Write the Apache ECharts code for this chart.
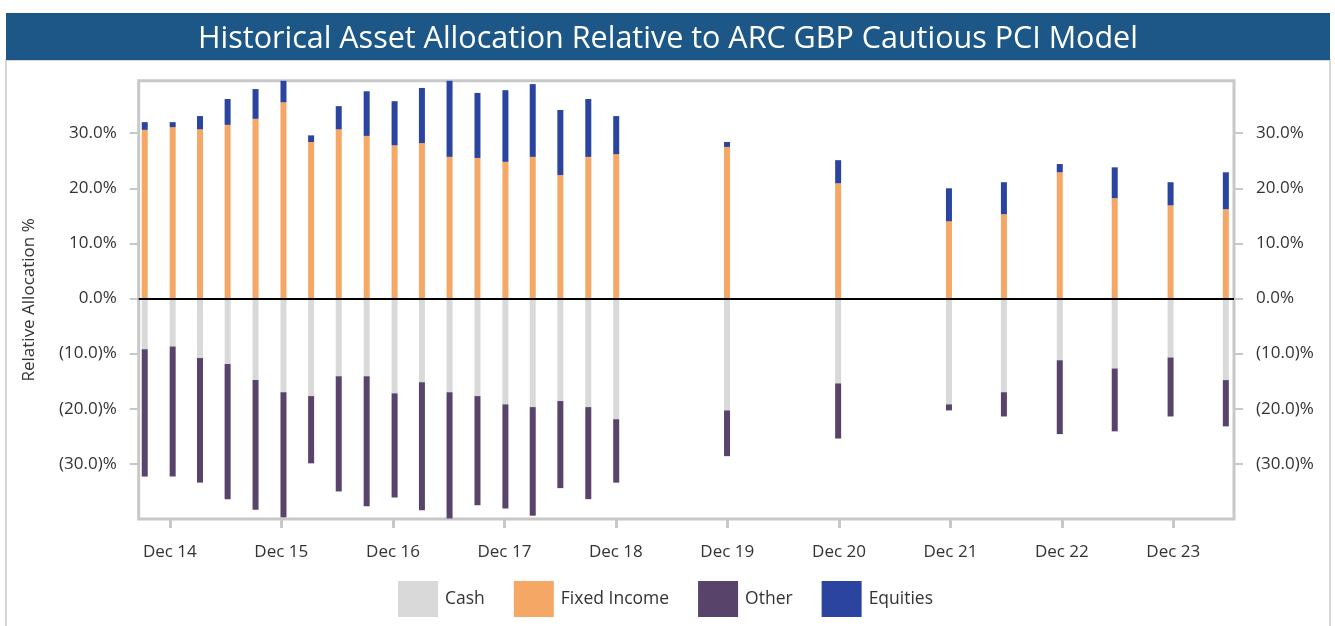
<!DOCTYPE html>
<html>
<head>
<meta charset="utf-8">
<title>Historical Asset Allocation</title>
<script src="https://cdn.jsdelivr.net/npm/echarts@6/dist/echarts.min.js"></script>
<style>
  html, body { margin: 0; padding: 0; background: #fff; }
  #main { width: 1335px; height: 626px; }
</style>
</head>
<body>
<div id="main"></div>
<script>
// period ends (quarterly to Dec 18, then yearly, then half-yearly)
var periods = ['2014-09-30', '2014-12-31', '2015-03-31', '2015-06-30', '2015-09-30', '2015-12-31',
  '2016-03-31', '2016-06-30', '2016-09-30', '2016-12-31', '2017-03-31', '2017-06-30', '2017-09-30',
  '2017-12-31', '2018-03-31', '2018-06-30', '2018-09-30', '2018-12-31', '2019-12-31', '2020-12-31',
  '2021-12-31', '2022-06-30', '2022-12-31', '2023-06-30', '2023-12-31', '2024-06-30'];

// relative allocation, %
var cash = [-9.2, -8.7, -10.8, -11.9, -14.8, -17.0, -17.7, -14.1, -14.1, -17.2, -15.2, -17.0, -17.7,
  -19.2, -19.7, -18.6, -19.7, -21.9, -20.3, -15.4, -19.2, -17.0, -11.2, -12.7, -10.7, -14.8];
var fixedIncome = [30.6, 31.1, 30.7, 31.5, 32.6, 35.6, 28.4, 30.7, 29.5, 27.8, 28.2, 25.7, 25.5,
  24.8, 25.7, 22.4, 25.7, 26.2, 27.5, 20.9, 14.0, 15.3, 22.9, 18.2, 16.9, 16.2];
var other = [-23.1, -23.6, -22.6, -24.5, -23.5, -22.7, -12.2, -20.9, -23.6, -18.9, -23.2, -22.9, -19.8,
  -18.9, -19.7, -15.8, -16.7, -11.5, -8.3, -10.0, -1.1, -4.4, -13.4, -11.4, -10.7, -8.4];
var equities = [1.4, 0.9, 2.4, 4.7, 5.4, 4.2, 1.2, 4.2, 8.1, 8.0, 10.0, 14.2, 11.8,
  13.0, 13.2, 11.8, 10.5, 6.9, 0.9, 4.2, 6.0, 5.8, 1.5, 5.6, 4.2, 6.7];

// x axis labels (year ends) and y axis ticks
var labelYears = [2014, 2015, 2016, 2017, 2018, 2019, 2020, 2021, 2022, 2023];
var yTicks = [-30, -20, -10, 0, 10, 20, 30];

var FONT = '"Open Sans", "Noto Sans", sans-serif';
var TXT = '#333333';
var GREY = '#c8c8c8';

var xTicks = labelYears.map(function (y) { return new Date(y, 11, 31).getTime(); });
var xMin = new Date(2014, 8, 20).getTime();
var xMax = new Date(2024, 6, 17).getTime();

function xLabel(v) {
  return 'Dec ' + String(new Date(v).getFullYear()).slice(2);
}
function pct(v) {
  return v < 0 ? '(' + (-v).toFixed(1) + ')%' : v.toFixed(1) + '%';
}
function toPairs(arr) {
  return arr.map(function (v, i) { return [periods[i], v]; });
}

var chart = echarts.init(document.getElementById('main'));

function yAxisCfg(pos) {
  return {
    type: 'value',
    position: pos,
    min: -40,
    max: 39.5,
    splitLine: { show: false },
    axisLine: { show: false },
    axisTick: { show: true, customValues: yTicks, length: 9, lineStyle: { color: GREY, width: 2 } },
    axisLabel: {
      customValues: yTicks, formatter: pct, margin: 22,
      color: TXT, fontSize: 17, fontFamily: FONT
    }
  };
}

var leftAxis = yAxisCfg('left');
leftAxis.name = 'Relative Allocation %';
leftAxis.nameLocation = 'middle';
leftAxis.nameGap = 101;
leftAxis.nameTextStyle = { color: TXT, fontSize: 17, fontFamily: FONT };

function barSeries(name, data, color) {
  return {
    name: name,
    type: 'bar',
    stack: 'alloc',
    barWidth: 6,
    xAxisIndex: 0,
    yAxisIndex: 0,
    itemStyle: { color: color },
    data: toPairs(data)
  };
}

var series = [
  barSeries('Cash', cash, '#d9d9d9'),
  barSeries('Fixed Income', fixedIncome, '#f5a866'),
  barSeries('Other', other, '#58436b'),
  barSeries('Equities', equities, '#2a44a0')
];
series[3].markLine = {
  silent: true,
  symbol: 'none',
  label: { show: false },
  lineStyle: { color: '#000', width: 2, type: 'solid' },
  data: [{ yAxis: 0 }]
};

var option = {
  animation: false,
  backgroundColor: '#fff',
  textStyle: { fontFamily: FONT },
  graphic: [
    { type: 'rect', shape: { x: 6, y: 60, width: 1324, height: 600 },
      style: { fill: 'none', stroke: '#d6d6d6', lineWidth: 2 }, z: -1 },
    { type: 'rect', shape: { x: 6, y: 13, width: 1324, height: 47 },
      style: { fill: '#1c5788' }, z: 0 },
    { type: 'text', x: 668, y: 39, z: 1,
      style: { text: 'Historical Asset Allocation Relative to ARC GBP Cautious PCI Model',
        fill: '#fff', font: '30.5px ' + FONT, align: 'center', verticalAlign: 'middle' } }
  ],
  legend: {
    left: 393,
    top: 576,
    icon: 'rect',
    itemWidth: 40,
    itemHeight: 36,
    itemGap: 29,
    textStyle: { color: TXT, fontSize: 17.5, fontFamily: FONT, padding: [0, 0, 0, 2] },
    data: ['Cash', 'Fixed Income', 'Other', 'Equities']
  },
  grid: {
    left: 138.7, right: 101, top: 80.8, bottom: 107,
    show: true, borderColor: GREY, borderWidth: 3
  },
  xAxis: [
    {
      // time axis carries the bars (stacking works per date)
      type: 'time',
      position: 'bottom',
      min: xMin,
      max: xMax,
      splitLine: { show: false },
      axisLine: { show: false, onZero: false },
      axisTick: { show: false },
      axisLabel: { show: false }
    },
    {
      // value axis with the same range draws the Dec ticks and labels
      type: 'value',
      position: 'bottom',
      min: xMin,
      max: xMax,
      splitLine: { show: false },
      axisLine: { show: false, onZero: false },
      axisTick: { show: true, customValues: xTicks, length: 9, lineStyle: { color: GREY, width: 3 } },
      axisLabel: {
        customValues: xTicks, formatter: xLabel, margin: 25,
        color: TXT, fontSize: 17, fontFamily: FONT
      }
    }
  ],
  yAxis: [leftAxis, yAxisCfg('right')],
  series: series
};

chart.setOption(option);
</script>
</body>
</html>
